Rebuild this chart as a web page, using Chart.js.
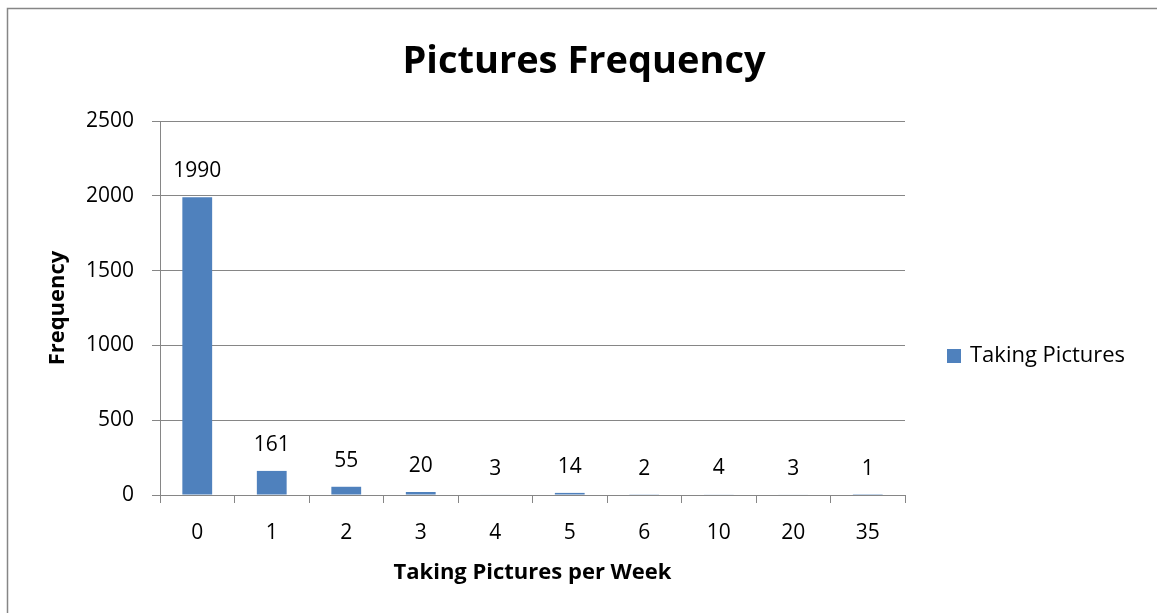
<!DOCTYPE html>
<html>
<head>
<meta charset="utf-8">
<script src="https://cdn.jsdelivr.net/npm/chart.js@4.4.1/dist/chart.umd.min.js"></script>
<style>
  html, body { margin: 0; padding: 0; background: #ffffff; }
  #wrap { width: 1157px; height: 613px; position: relative; }
</style>
</head>
<body>
<div id="wrap"><canvas id="chart" width="1157" height="613"></canvas></div>
<script>
// Weekly picture-taking counts
const categories = ['0', '1', '2', '3', '4', '5', '6', '10', '20', '35'];
const frequencies = [1990, 161, 55, 20, 3, 14, 2, 4, 3, 1];
const seriesName = 'Taking Pictures';
const chartTitle = 'Pictures Frequency';
const yTicks = [0, 500, 1000, 1500, 2000, 2500];

const FONT = '"Open Sans", Lato, sans-serif';
const BAR_COLOR = '#4F81BD';
const GRID_COLOR = '#868686';

// Outer frame and heading of the chart object
const framePlugin = {
  id: 'frame',
  beforeDraw(chart) {
    const ctx = chart.ctx;
    ctx.save();
    ctx.fillStyle = '#ffffff';
    ctx.fillRect(0, 0, chart.width, chart.height);
    ctx.strokeStyle = '#868686';
    ctx.lineWidth = 1.5;
    ctx.strokeRect(7.5, 8.5, chart.width + 20, chart.height + 20);
    ctx.font = 'bold 38px ' + FONT;
    ctx.fillStyle = '#000000';
    ctx.textAlign = 'center';
    ctx.textBaseline = 'middle';
    ctx.fillText(chartTitle, 584, 62);
    ctx.restore();
  }
};

// Value labels above each bar
const valueLabels = {
  id: 'valueLabels',
  afterDatasetsDraw(chart) {
    const ctx = chart.ctx;
    const meta = chart.getDatasetMeta(0);
    const data = chart.data.datasets[0].data;
    ctx.save();
    ctx.font = '21px ' + FONT;
    ctx.fillStyle = '#000000';
    ctx.textAlign = 'center';
    ctx.textBaseline = 'middle';
    meta.data.forEach((bar, i) => {
      ctx.fillText(String(data[i]), bar.x, bar.y - 26);
    });
    ctx.restore();
  }
};

// Legend on the right side, drawn from the dataset
const sideLegend = {
  id: 'sideLegend',
  afterDraw(chart) {
    const ctx = chart.ctx;
    const ds = chart.data.datasets[0];
    const y = 356;
    ctx.save();
    ctx.fillStyle = ds.backgroundColor;
    ctx.fillRect(947, y - 7, 14, 14);
    ctx.font = '22px ' + FONT;
    ctx.fillStyle = '#000000';
    ctx.textAlign = 'left';
    ctx.textBaseline = 'middle';
    ctx.fillText(ds.label, 970, y);
    ctx.restore();
  }
};

new Chart(document.getElementById('chart'), {
  type: 'bar',
  data: {
    labels: categories,
    datasets: [{
      label: seriesName,
      data: frequencies,
      backgroundColor: BAR_COLOR,
      borderWidth: 0,
      barPercentage: 0.4,
      categoryPercentage: 1.0
    }]
  },
  options: {
    responsive: false,
    animation: false,
    devicePixelRatio: 1,
    layout: { padding: { left: 8, right: 252, top: 121, bottom: 0 } },
    plugins: {
      legend: { display: false },
      tooltip: { enabled: false },
      title: { display: false }
    },
    scales: {
      x: {
        offset: true,
        afterFit(scale) { scale.height = 118; },
        grid: {
          display: true,
          offset: true,
          drawOnChartArea: false,
          drawTicks: true,
          tickLength: 8,
          color: GRID_COLOR,
          lineWidth: 1
        },
        border: { display: true, color: GRID_COLOR, width: 1 },
        ticks: { color: '#000000', font: { family: FONT, size: 21 }, padding: 17, maxRotation: 0 },
        title: {
          display: true,
          text: 'Taking Pictures per Week',
          color: '#000000',
          font: { family: FONT, size: 22, weight: 'bold' },
          padding: { top: 0, bottom: 27 }
        }
      },
      y: {
        min: 0,
        max: 2500,
        afterFit(scale) { scale.width = 152; },
        afterBuildTicks(scale) {
          scale.ticks = yTicks.map(v => ({ value: v }));
        },
        grid: {
          color: GRID_COLOR,
          lineWidth: 1,
          tickLength: 8
        },
        border: { display: true, color: GRID_COLOR, width: 1 },
        ticks: {
          color: '#000000',
          font: { family: FONT, size: 21 },
          padding: 18,
          callback: (v) => String(v)
        },
        title: {
          display: true,
          text: 'Frequency',
          color: '#000000',
          font: { family: FONT, size: 22, weight: 'bold' },
          padding: { top: 37, bottom: 0 }
        }
      }
    }
  },
  plugins: [framePlugin, valueLabels, sideLegend]
});
</script>
</body>
</html>
